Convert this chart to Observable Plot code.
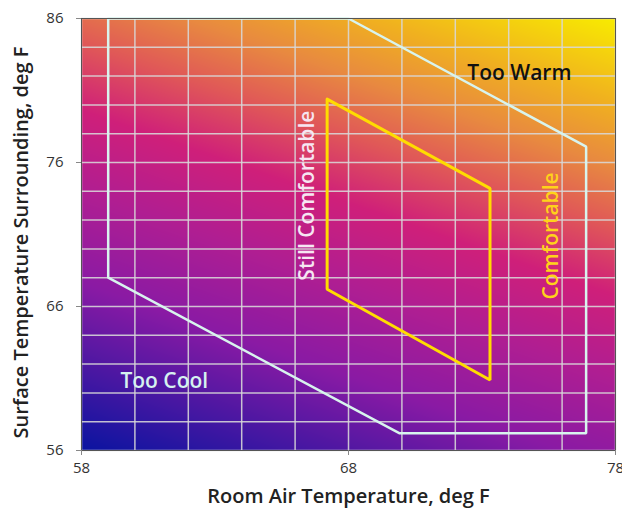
<!DOCTYPE html>
<html>
<head>
<meta charset="utf-8">
<script src="https://cdn.jsdelivr.net/npm/d3@7"></script>
<script src="https://cdn.jsdelivr.net/npm/@observablehq/plot@0.6"></script>
<style>
  html, body { margin: 0; padding: 0; background: #fff; }
  #chart svg { font-family: "Open Sans", sans-serif; }
  g[aria-label="x-axis label"] text { font-size: 20px; font-weight: 600; fill: #222; }
</style>
</head>
<body>
<div id="chart"></div>
<script>
// Axis ticks and grid values
const xTicks = [58, 68, 78];
const yTicks = [56, 66, 76, 86];
const xGrid = [58, 60, 62, 64, 66, 68, 70, 72, 74, 76, 78];
const yGrid = [56, 58, 60, 62, 64, 66, 68, 70, 72, 74, 76, 78, 80, 82, 84, 86];
const xTitle = "Room Air Temperature, deg F";
const yTitle = "Surface Temperature Surrounding, deg F";

// Outer boundary (Too Cool / Too Warm limits)
const outerX = [59, 59, 69.9, 76.9, 76.9, 68, 59];
const outerY = [86, 68, 57.2, 57.2, 77.1, 86, 86];

// Inner comfort zone
const innerX = [67.2, 73.3, 73.3, 67.2, 67.2];
const innerY = [80.4, 74.2, 60.9, 67.2, 80.4];

// Annotation labels
const labelText = ["Too Warm", "Too Cool", "Still Comfortable", "Comfortable"];
const labelX = [74.4, 61.1, 66.45, 75.6];
const labelY = [82.2, 60.8, 73.7, 70.9];
const labelRotate = [0, 0, -90, -90];
const labelColor = ["#111111", "#d6f2f0", "#f6e6f2", "#ffd21a"];

// Background gradient ramp
const rampStops = [0, 0.27, 0.42, 0.55, 0.66, 0.76, 0.86, 1];
const rampColors = ["#0a14a0", "#8a1aa4", "#b01e92", "#cf1f7a", "#e05858", "#e88a40", "#f0b020", "#f8ec00"];

const outer = outerX.map((x, i) => ({x, y: outerY[i]}));
const inner = innerX.map((x, i) => ({x, y: innerY[i]}));
const labels = labelText.map((t, i) => ({t, x: labelX[i], y: labelY[i], r: labelRotate[i], c: labelColor[i]}));

const chart = Plot.plot({
  width: 622,
  height: 515,
  marginLeft: 81,
  marginRight: 7,
  marginTop: 18,
  marginBottom: 65,
  style: {fontFamily: "Open Sans, sans-serif", fontSize: "15px", color: "#333"},
  x: {domain: [58, 78]},
  y: {domain: [56, 86]},
  color: {type: "linear", domain: rampStops, range: rampColors, interpolate: "rgb"},
  marks: [
    Plot.raster({
      x1: 58, x2: 78, y1: 56, y2: 86,
      fill: (x, y) => 0.3 * (x - 58) / 20 + 0.7 * (y - 56) / 30,
      imageRendering: "auto"
    }),
    Plot.gridX(xGrid, {stroke: "#d8d8d8", strokeOpacity: 0.88, strokeWidth: 1.5}),
    Plot.gridY(yGrid, {stroke: "#d8d8d8", strokeOpacity: 0.88, strokeWidth: 1.5}),
    Plot.line(outer, {x: "x", y: "y", stroke: "#d8f4ee", strokeWidth: 2.5, strokeLinejoin: "miter"}),
    Plot.line(inner, {x: "x", y: "y", stroke: "#ffdc00", strokeWidth: 3, strokeLinejoin: "miter"}),
    Plot.text(labels, {x: "x", y: "y", text: "t", rotate: "r", fill: "c", fontSize: 21, fontWeight: 600}),
    Plot.frame({stroke: "#555", strokeWidth: 1}),
    Plot.axisX(xTicks, {tickSize: 5, tickPadding: 7, fontSize: 15, stroke: "#888", fill: "#333", textAnchor: "middle",
      label: xTitle, labelAnchor: "center", labelOffset: 52, labelArrow: "none"}),
    Plot.axisY(yTicks, {tickSize: 5, tickPadding: 13, fontSize: 15, stroke: "#888", fill: "#333", label: null}),
    Plot.text([yTitle], {frameAnchor: "left", textAnchor: "middle", rotate: -90, dx: -60, dy: 8, fontSize: 20, fontWeight: 600, fill: "#222"})
  ]
});
document.getElementById("chart").appendChild(chart);
</script>
</body>
</html>
